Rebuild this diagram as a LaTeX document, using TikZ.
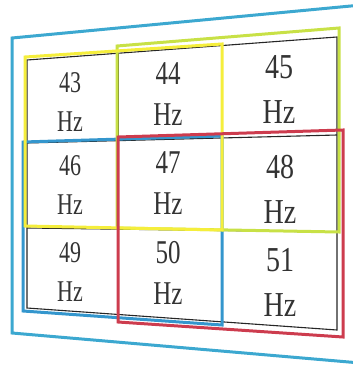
\documentclass[tikz,border=0pt]{standalone}
\usepackage{graphicx}
\usepackage{fontspec}
\setmainfont{Liberation Serif}
\definecolor{outerblue}{RGB}{60,168,208}
\definecolor{innerblue}{RGB}{52,150,205}
\definecolor{winyellow}{RGB}{245,238,60}
\definecolor{winlime}{RGB}{200,225,70}
\definecolor{winred}{RGB}{205,60,78}
\newcommand{\cellA}[1]{\scalebox{1}[1.37]{\fontsize{22}{29}\selectfont\begin{tabular}{@{}c@{}}#1\\Hz\end{tabular}}}
\newcommand{\cellB}[1]{\scalebox{1}[1.33]{\fontsize{25}{31}\selectfont\begin{tabular}{@{}c@{}}#1\\Hz\end{tabular}}}
\newcommand{\cellC}[1]{\scalebox{1}[1.25]{\fontsize{28}{36}\selectfont\begin{tabular}{@{}c@{}}#1\\Hz\end{tabular}}}
\begin{document}
\begin{tikzpicture}[x=1pt,y=-1pt,
  gridline/.style={draw=black!85,line width=1.1pt},
  win/.style={line width=3pt,line join=miter},
  cell/.style={inner sep=0pt,text=black!80}]
\useasboundingbox (0,0) rectangle (353,367);
\clip (0,0) rectangle (353,367);
% outer frame
\draw[win,draw=outerblue] (12,38) -- (372,4) -- (372,364) -- (12,333) -- cycle;
% grid
\path[gridline] (27,60) -- (337,37) -- (337,330) -- (27,308) -- cycle;
\path[gridline] (27,143) -- (337,135);
\path[gridline] (27,228) -- (337,232);
\path[gridline] (118,53) -- (118,315);
\path[gridline] (222,45) -- (222,322);
% windows
\draw[win,draw=innerblue] (23,142) -- (222,136) -- (222,325) -- (23,311) -- cycle;
\draw[win,draw=winlime] (117,46) -- (339,28) -- (339,232) -- (117,228) -- cycle;
\draw[win,draw=winyellow] (25,57) -- (222,44) -- (222,230) -- (25,226) -- cycle;
\draw[win,draw=winred] (118,137) -- (343,130) -- (343,337) -- (118,322) -- cycle;
% cells
\node[cell] (c43) at (70,104) {\cellA{43}};
\node[cell] (c44) at (168,97) {\cellB{44}};
\node[cell] (c45) at (279,92) {\cellC{45}};
\node[cell] (c46) at (70,187) {\cellA{46}};
\node[cell] (c47) at (168,186) {\cellB{47}};
\node[cell] (c48) at (280,192) {\cellC{48}};
\node[cell] (c49) at (70,274) {\cellA{49}};
\node[cell] (c50) at (168,276) {\cellB{50}};
\node[cell] (c51) at (280,285) {\cellC{51}};
\end{tikzpicture}
\end{document}
